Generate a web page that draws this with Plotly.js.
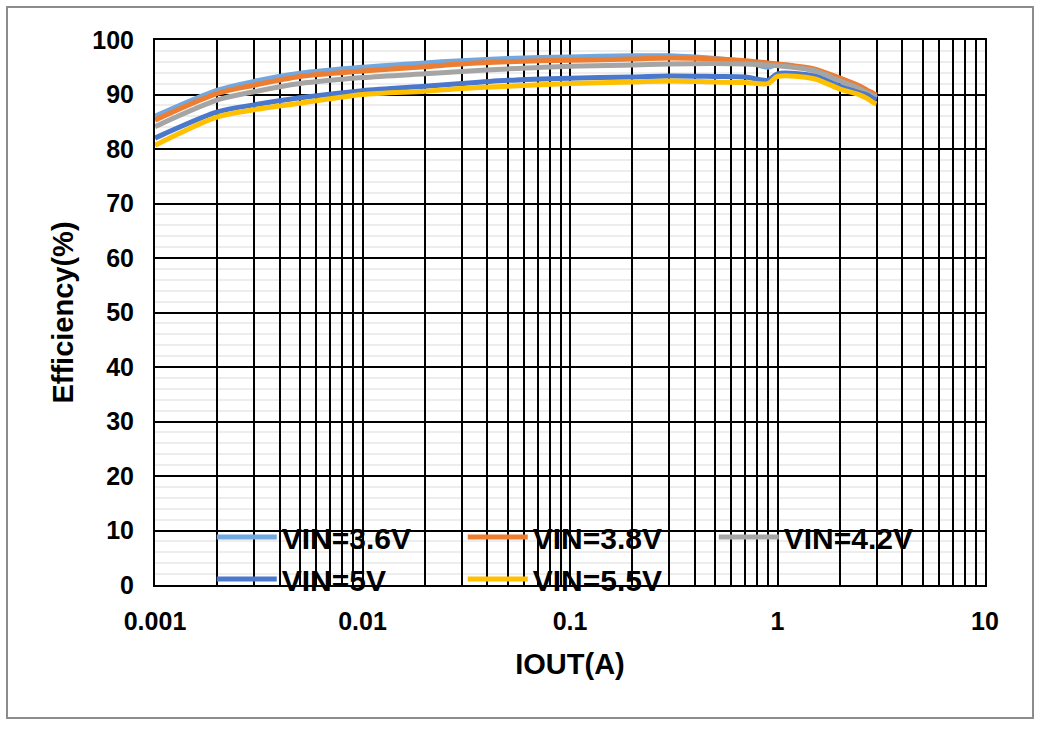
<!DOCTYPE html>
<html>
<head>
<meta charset="utf-8">
<script src="https://cdn.plot.ly/plotly-3.0.1.min.js"></script>
<style>
  html, body { margin: 0; padding: 0; background: #ffffff; }
  #chart { width: 1042px; height: 730px; }
</style>
</head>
<body>
<div id="chart"></div>
<script>
// ---- data ----
const iout = [0.001, 0.002, 0.003, 0.005, 0.01, 0.02, 0.03, 0.05, 0.1, 0.2, 0.3, 0.5, 0.7, 0.9, 1.0, 1.5, 2, 2.5, 2.7, 2.9, 3];
const eff36 = [86.0, 90.8, 92.4, 93.9, 95.0, 95.8, 96.2, 96.6, 96.9, 97.1, 97.1, 96.6, 96.0, 95.0, 95.5, 94.4, 92.9, 91.4, 90.6, 89.8, 89.4];
const eff38 = [85.3, 90.2, 91.7, 93.3, 94.3, 95.1, 95.6, 96.0, 96.3, 96.5, 96.7, 96.5, 96.2, 95.8, 95.6, 94.7, 93.0, 91.5, 90.8, 90.2, 89.9];
const eff42 = [84.1, 89.0, 90.5, 92.0, 93.1, 93.8, 94.2, 94.7, 95.2, 95.4, 95.6, 95.7, 95.6, 95.4, 95.3, 94.4, 92.5, 91.0, 90.3, 89.8, 89.6];
const eff50 = [82.0, 86.8, 88.1, 89.4, 90.7, 91.5, 92.0, 92.6, 93.0, 93.2, 93.4, 93.3, 93.2, 92.6, 93.8, 93.4, 91.5, 90.3, 89.9, 89.2, 89.0];
const eff55 = [80.7, 85.9, 87.2, 88.4, 90.0, 90.6, 91.1, 91.5, 92.0, 92.3, 92.5, 92.3, 92.2, 92.0, 93.3, 92.9, 91.0, 89.9, 89.3, 88.5, 88.3];
const seriesNames = ['VIN=3.6V', 'VIN=3.8V', 'VIN=4.2V', 'VIN=5V', 'VIN=5.5V'];
const xDecades = [0.001, 0.01, 0.1, 1, 10];
const xTickLabels = ['0.001', '0.01', '0.1', '1', '10'];
const yTicks = [0, 10, 20, 30, 40, 50, 60, 70, 80, 90, 100];

// ---- styling ----
const colors = ['#72A7DF', '#ED7D31', '#A5A5A5', '#4A78CC', '#FFC000'];
const seriesData = [eff36, eff38, eff42, eff50, eff55];

// all log gridline positions (1..9 per decade), labels only on decades
const tickvals = [];
const ticktext = [];
for (let d = 0; d < xDecades.length - 1; d++) {
  for (let k = 1; k <= 9; k++) {
    tickvals.push(k * xDecades[d]);
    ticktext.push(k === 1 ? xTickLabels[d] : '');
  }
}
tickvals.push(xDecades[xDecades.length - 1]);
ticktext.push(xTickLabels[xTickLabels.length - 1]);

const font = { family: 'Liberation Sans, Arial, sans-serif', color: '#000000', weight: 'bold' };

const traces = seriesData.map((y, i) => ({
  type: 'scatter',
  mode: 'lines',
  x: iout,
  y: y,
  name: seriesNames[i],
  line: { color: colors[i], width: 5, shape: 'spline', smoothing: 0.8 },
  hoverinfo: 'x+y+name'
}));

const layout = {
  width: 1042,
  height: 730,
  margin: { l: 155, r: 57, t: 40, b: 145 },
  paper_bgcolor: '#ffffff',
  plot_bgcolor: '#ffffff',
  showlegend: true,
  font: font,
  xaxis: {
    type: 'log',
    range: [Math.log10(0.001), Math.log10(10)],
    tickmode: 'array',
    tickvals: tickvals,
    ticktext: ticktext,
    ticks: '',
    showgrid: true,
    gridcolor: '#000000',
    gridwidth: 2,
    showline: true,
    linecolor: '#000000',
    linewidth: 2,
    mirror: true,
    zeroline: false,
    tickfont: Object.assign({}, font, { size: 25 }),
    ticklabelstandoff: 13,
    title: { text: 'IOUT(A)', font: Object.assign({}, font, { size: 29 }), standoff: 20 },
    automargin: false
  },
  yaxis: {
    range: [0, 100],
    tickmode: 'array',
    tickvals: yTicks,
    ticktext: yTicks.map(String),
    ticks: '',
    showgrid: true,
    gridcolor: '#000000',
    gridwidth: 2,
    minor: { dtick: 2, showgrid: true, gridcolor: '#ededed', gridwidth: 2, ticks: '' },
    showline: true,
    linecolor: '#000000',
    linewidth: 2,
    mirror: true,
    zeroline: false,
    tickfont: Object.assign({}, font, { size: 25 }),
    ticklabelstandoff: 14,
    title: { text: 'Efficiency(%)', font: Object.assign({}, font, { size: 29 }), standoff: 10 },
    automargin: false
  },
  legend: {
    orientation: 'h',
    x: 0.0684,
    xanchor: 'left',
    y: 0.136,
    yanchor: 'top',
    bgcolor: 'rgba(0,0,0,0)',
    borderwidth: 0,
    entrywidth: 176,
    entrywidthmode: 'pixels',
    itemwidth: 60,
    tracegroupgap: 0,
    font: Object.assign({}, font, { size: 30 })
  },
  shapes: [{
    type: 'rect',
    xref: 'paper', yref: 'paper',
    x0: (7 - 155) / 830, x1: (1033 - 155) / 830,
    y0: (585 - 718) / 545, y1: (585 - 7) / 545,
    line: { color: '#8c8c8c', width: 2 },
    fillcolor: 'rgba(0,0,0,0)',
    layer: 'below'
  }]
};

Plotly.newPlot('chart', traces, layout, { displayModeBar: false, staticPlot: true });
</script>
</body>
</html>
